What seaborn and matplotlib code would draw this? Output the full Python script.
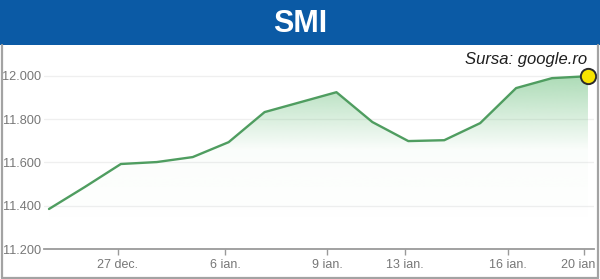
import numpy as np
import pandas as pd
import matplotlib
matplotlib.use("Agg")
import matplotlib.pyplot as plt
import matplotlib.transforms as mtransforms
import seaborn as sns
from matplotlib.patches import Rectangle
from matplotlib.lines import Line2D
from matplotlib.colors import LinearSegmentedColormap

# ---- data ----
day_index = list(range(16))
smi_values = [11385, 11487, 11593, 11602, 11625, 11694, 11833, 11879,
              11925, 11787, 11699, 11703, 11782, 11944, 11990, 11999]
tick_positions = [1.92, 4.90, 7.74, 9.91, 12.77, 14.90]
tick_labels = ["27 dec.", "6 ian.", "9 ian.", "13 ian.", "16 ian.", "20 ian"]
y_ticks = [11200, 11400, 11600, 11800, 12000]
y_tick_labels = ["11.200", "11.400", "11.600", "11.800", "12.000"]
title = "SMI"
source = "Sursa: google.ro"

sns.set_theme(style="white")
plt.rcParams["font.family"] = ["Liberation Sans", "DejaVu Sans"]

W, H = 600, 279
fig = plt.figure(figsize=(W / 100, H / 100), dpi=100)
fig.patch.set_facecolor("white")

left_px, right_px, top_px, bottom_px = 44, 594, 54.35, 249
ax = fig.add_axes([left_px / W, 1 - bottom_px / H,
                   (right_px - left_px) / W, (bottom_px - top_px) / H])
ax.set_facecolor("none")

df = pd.DataFrame({"day": day_index, "value": smi_values})
line_color = "#4f9d60"

for yt in y_ticks[1:]:
    ax.axhline(yt, color="#efefef", lw=0.9, zorder=0)

poly = ax.fill_between(df["day"], df["value"], 11200, facecolor="none",
                       edgecolor="none")
grad = np.linspace(0, 1, 256).reshape(-1, 1)
rgb = matplotlib.colors.to_rgb("#6cc07e")
cmap = LinearSegmentedColormap.from_list(
    "g", [(rgb[0], rgb[1], rgb[2], 0.0), (rgb[0], rgb[1], rgb[2], 0.03),
          (rgb[0], rgb[1], rgb[2], 0.58)])
img = ax.imshow(grad, extent=[df["day"].min(), df["day"].max(), 11300, 12010],
                origin="lower", aspect="auto", cmap=cmap, vmin=0, vmax=1,
                zorder=1, interpolation="bicubic")
img.set_clip_path(poly.get_paths()[0], transform=ax.transData)
ax.set_xlim(-0.139, 15.168)
ax.set_ylim(11200, 12100)

sns.lineplot(data=df, x="day", y="value", ax=ax, color=line_color,
             linewidth=1.7, zorder=3)

last = df.iloc[-1]
ax.plot([last["day"]], [last["value"]], marker="o", markersize=11,
        markerfacecolor="#f7e300", markeredgecolor="#2b2b2b",
        markeredgewidth=1.4, zorder=5, clip_on=False)

for s in ["top", "right", "left"]:
    ax.spines[s].set_visible(False)
ax.spines["bottom"].set_color("#9a9a9a")
ax.spines["bottom"].set_linewidth(1.3)
ax.set_xticks(tick_positions)
ax.set_xticklabels(tick_labels)
ax.set_yticks(y_ticks)
ax.set_yticklabels(y_tick_labels)
ax.tick_params(axis="x", colors="#9a9a9a", length=4, width=1, direction="out",
               pad=3, labelsize=9, labelcolor="#777777", bottom=True)
ax.tick_params(axis="y", length=0, pad=2, labelsize=9.2, labelcolor="#777777")
ax.set_xlabel("")
ax.set_ylabel("")

# nudge the last x label so it stays inside the frame
last_lab = ax.get_xticklabels()[-1]
last_lab.set_transform(last_lab.get_transform() +
                       mtransforms.ScaledTranslation(-6 / 100, 0, fig.dpi_scale_trans))

fig.add_artist(Rectangle((0, 1 - 45 / H), 1, 45 / H, transform=fig.transFigure,
                         facecolor="#0b5aa5", edgecolor="none", zorder=0))
fig.text(0.5, 1 - 23.5 / H, title, color="white", fontsize=22,
         fontweight="bold", ha="center", va="center")

frame_c = "#a3a3a3"
fig.add_artist(Line2D([1.5 / W, 1.5 / W], [1 - 45 / H, 1 - 277.5 / H],
                      transform=fig.transFigure, color=frame_c, lw=1.6))
fig.add_artist(Line2D([597.5 / W, 597.5 / W], [1 - 45 / H, 1 - 277.5 / H],
                      transform=fig.transFigure, color=frame_c, lw=1.6))
fig.add_artist(Line2D([1.5 / W, 597.5 / W], [1 - 277.5 / H, 1 - 277.5 / H],
                      transform=fig.transFigure, color=frame_c, lw=1.6))

fig.text(587 / W, 1 - 64 / H, source, color="#1e1e1e", fontsize=12,
         fontstyle="italic", ha="right", va="baseline")

fig.savefig("out.png", dpi=100, facecolor="white")
